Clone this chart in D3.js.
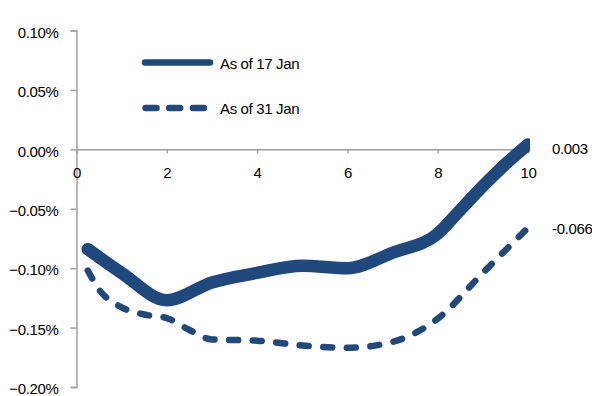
<!DOCTYPE html>
<html>
<head>
<meta charset="utf-8">
<script src="https://cdn.jsdelivr.net/npm/d3@7"></script>
<style>
  html, body { margin: 0; padding: 0; background: #fff; }
  svg { display: block; font-family: "Liberation Sans", Arial, sans-serif; }
</style>
</head>
<body>
<svg id="chart" width="592" height="396"></svg>
<script>
// ---- data ----
const seriesNames = ["As of 17 Jan", "As of 31 Jan"];
const jan17X = [0.25, 1, 2, 3, 4, 5, 6, 7, 8, 8.5, 9, 9.5, 10];
const jan17Y = [-0.084, -0.104, -0.127, -0.112, -0.104, -0.098, -0.100, -0.087, -0.071, -0.051, -0.031, -0.0125, 0.004];
const jan31X = [0.25, 0.5, 1, 1.5, 2, 2.5, 3, 4, 5, 6, 7, 8, 9, 10];
const jan31Y = [-0.102, -0.118, -0.133, -0.139, -0.142, -0.152, -0.160, -0.161, -0.165, -0.167, -0.162, -0.1425, -0.104, -0.066];
const endLabels = ["0.003", "-0.066"];
const xTicks = [0, 2, 4, 6, 8, 10];
const yTicks = [0.10, 0.05, 0.00, -0.05, -0.10, -0.15, -0.20];

// ---- layout ----
const color = "#1F497D";
const axisColor = "#a0a0a0";
const fs = 15, ls = "-0.35px";
const svg = d3.select("#chart");

const x = d3.scaleLinear().domain([0, 10]).range([76.5, 528]);
const y = d3.scaleLinear().domain([-0.20, 0.10]).range([387, 30.5]);

// y axis
const yAxis = d3.axisLeft(y).tickValues(yTicks).tickSize(6).tickPadding(12)
  .tickFormat(d => d3.format(".2f")(d) + "%");
const gy = svg.append("g").attr("transform", `translate(${x(0)},0)`).call(yAxis);
gy.select(".domain").attr("stroke", axisColor).attr("stroke-width", 1.5);
gy.selectAll(".tick line").attr("stroke", axisColor).attr("stroke-width", 1.5);
gy.selectAll(".tick text").attr("font-size", fs).attr("fill", "#000").attr("letter-spacing", ls)
  .attr("font-family", "'Liberation Sans', Arial, sans-serif").attr("dy", "0.45em");

// x axis at zero
const xAxis = d3.axisBottom(x).tickValues(xTicks).tickSize(4).tickPadding(14);
const gx = svg.append("g").attr("transform", `translate(0,${y(0)})`).call(xAxis);
gx.select(".domain").attr("stroke", axisColor).attr("stroke-width", 1.5);
gx.selectAll(".tick line").attr("stroke", axisColor).attr("stroke-width", 1.5);
gx.selectAll(".tick text").attr("font-size", fs).attr("fill", "#000").attr("letter-spacing", ls)
  .attr("font-family", "'Liberation Sans', Arial, sans-serif");

// clip
svg.append("clipPath").attr("id", "plotclip")
  .append("rect").attr("x", 0).attr("y", 0).attr("width", x(10) + 2).attr("height", 396);

const line = d3.line().x(d => x(d[0])).y(d => y(d[1])).curve(d3.curveMonotoneX);
const d17 = jan17X.map((v, i) => [v, jan17Y[i]]);
const d31 = jan31X.map((v, i) => [v, jan31Y[i]]);

const plot = svg.append("g").attr("clip-path", "url(#plotclip)");
plot.append("path").datum(d31).attr("d", line)
  .attr("fill", "none").attr("stroke", color).attr("stroke-width", 6.5)
  .attr("stroke-linecap", "round").attr("stroke-dasharray", "9,14.6");
plot.append("path").datum(d17).attr("d", line)
  .attr("fill", "none").attr("stroke", color).attr("stroke-width", 12.5)
  .attr("stroke-linecap", "round").attr("stroke-linejoin", "round");

// end labels
svg.append("text").attr("x", 552).attr("y", 153.5)
  .attr("font-size", fs).attr("letter-spacing", ls).attr("fill", "#000").text(endLabels[0]);
svg.append("text").attr("x", 552).attr("y", 233.5)
  .attr("font-size", fs).attr("letter-spacing", ls).attr("fill", "#000").text(endLabels[1]);

// legend
const leg = svg.append("g");
leg.append("line").attr("x1", 145).attr("x2", 210).attr("y1", 62.5).attr("y2", 62.5)
  .attr("stroke", color).attr("stroke-width", 6.5).attr("stroke-linecap", "round");
leg.append("text").attr("x", 220).attr("y", 68.5).attr("font-size", fs).attr("letter-spacing", ls)
  .attr("fill", "#000").text(seriesNames[0]);
leg.append("line").attr("x1", 145.5).attr("x2", 206).attr("y1", 108).attr("y2", 108)
  .attr("stroke", color).attr("stroke-width", 6.5).attr("stroke-linecap", "round")
  .attr("stroke-dasharray", "11,12.7");
leg.append("text").attr("x", 220).attr("y", 113.5).attr("font-size", fs).attr("letter-spacing", ls)
  .attr("fill", "#000").text(seriesNames[1]);
</script>
</body>
</html>
